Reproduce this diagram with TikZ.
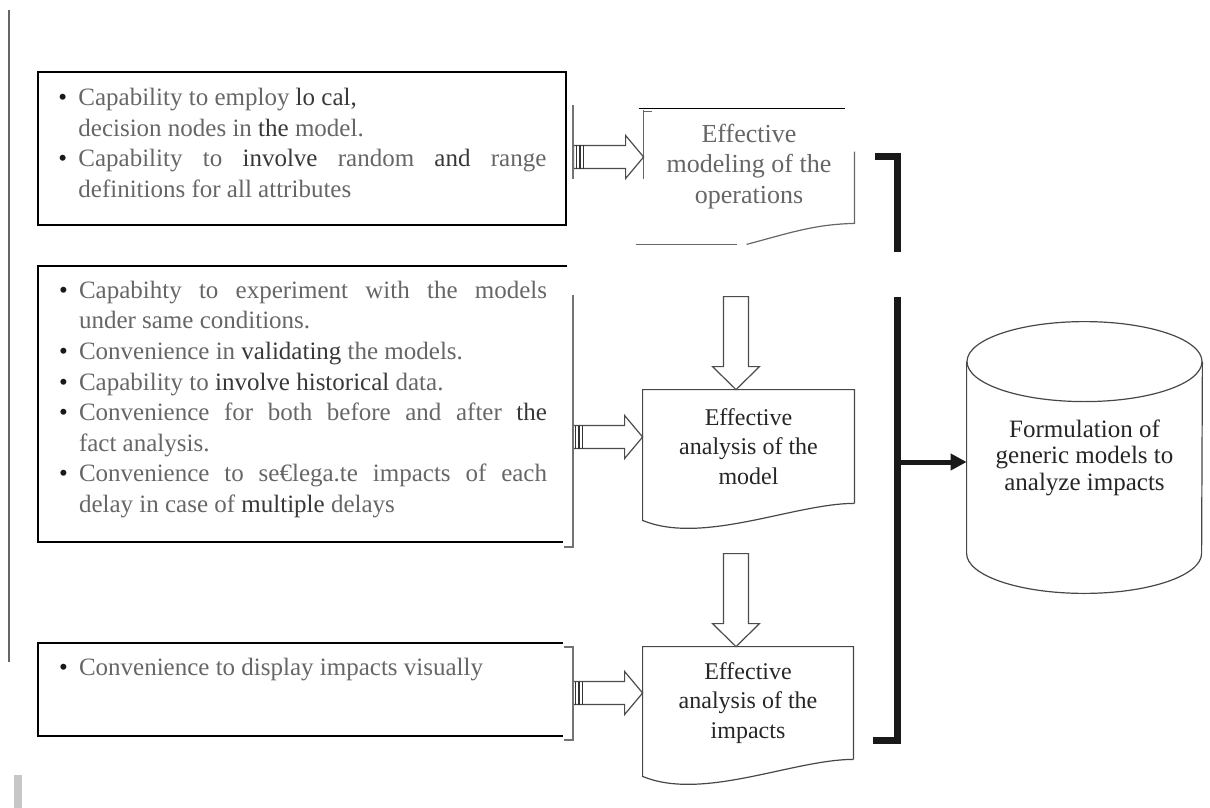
\documentclass[tikz,border=0pt]{standalone}
\usepackage{fontspec}
\setmainfont{Liberation Serif}
\usetikzlibrary{positioning,arrows.meta,calc}

\newcommand{\bul}{\makebox[11pt][l]{\hspace{1pt}\textcolor{black!90}{\textbullet}}}
\newcommand{\ind}{\hspace*{11pt}}
\newcommand{\dk}[1]{\textcolor{black!78}{#1}}

\begin{document}
\begin{tikzpicture}[
  x=0.5pt, y=-0.5pt,
  every node/.style={inner sep=0pt},
  frame/.style={rectangle, minimum width=262.5pt, draw=none},
  boxline/.style={draw=black, line width=1pt},
  lst/.style={anchor=north west, align=left, text=black!60,
              font=\fontsize{12.5}{15.3}\selectfont},
  doc/.style={rectangle, minimum width=105.5pt, minimum height=56.5pt, align=center,
              text=black!85, font=\fontsize{12}{14.8}\selectfont},
  outl/.style={draw=black!72, line width=0.6pt},
  frag/.style={draw=black!60, line width=0.6pt},
  brk/.style={draw=black!55, line width=0.6pt},
  blk/.style={draw=black!70, line width=0.6pt, fill=white},
  hatch/.style={draw=black!80, line width=0.8pt},
  bus/.style={draw=black!90, line width=3.5pt},
  busarr/.style={draw=black!90, line width=2.5pt, -{Triangle[length=8pt,width=8pt]}}
]
\useasboundingbox (0,0) rectangle (1210,808);

% margin marks
\draw[draw=black!60, line width=0.8pt] (9,10) -- (9,662);
\fill[black!22] (14,775) rectangle (22,808);

% left hand lists
\node[frame, boxline, minimum width=264pt, minimum height=76.5pt] (box1) at (302,148.5) {};
\node[frame, minimum height=138pt] (box2) at (300.5,404) {};
\node[frame, minimum height=46.5pt] (box3) at (300.5,689.5) {};
\draw[boxline] ($(box2.north east)+(4,0)$) -- (box2.north west) -- (box2.south west) -- (box2.south east);
\draw[boxline] (box3.north east) -- (box3.north west) -- (box3.south west) -- (box3.south east);

\node[lst] (txt1) at ($(box1.north west)+(19,17)$) {\bul Capability to employ \dk{lo cal,}\\
\ind decision nodes in \dk{the} model.\\
\bul\makebox[234pt][s]{Capability to \dk{involve} random \dk{and} range}\\
\ind definitions for all attributes};

\node[lst] (txt2) at ($(box2.north west)+(19,15)$) {\bul\makebox[234pt][s]{Capabihty to experiment with the models}\\
\ind under same conditions.\\
\bul Convenience in \dk{validating} the models.\\
\bul Capability to \dk{involve historical} data.\\
\bul\makebox[234pt][s]{Convenience for both before and after \dk{the}}\\
\ind fact analysis.\\
\bul\makebox[234pt][s]{Convenience to se€lega.te impacts of each}\\
\ind delay in case of \dk{multiple} delays};

\node[lst] (txt3) at ($(box3.north west)+(19,15)$) {\bul Convenience to display impacts visually};

% process steps
\node[doc, minimum width=105pt, text=black!60, font=\fontsize{13}{15.3}\selectfont] (doc1) at (749,166.5)
  {Effective\\modeling of the\\operations};
\node[doc] (doc2) at (748.5,446.5) {Effective\\analysis of the\\model};
\node[doc, minimum width=105pt, minimum height=56pt] (doc3) at (748,703) {Effective\\analysis of the\\impacts};

\draw[draw=black, line width=0.8pt] ($(doc1.north west)+(-5,-1)$) -- ($(doc1.north east)+(-9,-1)$);
\draw[frag] (doc1.north west) -- ($(doc1.north west)+(0,69)$);
\draw[frag] ($(doc1.north west)+(0,2)$) -- ++(8,0);
\draw[frag] ($(doc1.north east)+(0,42)$) -- (doc1.south east)
  .. controls +(-40,1) and +(45,-12) .. ($(doc1.south west)+(103,21)$);
\draw[frag] ($(doc1.south west)+(-8,21)$) -- ($(doc1.south west)+(93,21)$);

\foreach \dn in {doc2,doc3}
  \draw[outl] (\dn.south east) -- (\dn.north east) -- (\dn.north west)
    -- ($(\dn.south west)+(0,17)$) .. controls +(60,25) and +(-60,0) .. (\dn.south east);

% store
\node[rectangle, minimum width=117.5pt, minimum height=135.5pt, align=center,
      text=black!85, font=\fontsize{12.5}{13.3}\selectfont] (cyl) at (1084.5,457.5)
  {Formulation of\\generic models to\\analyze impacts};
\draw[outl] ($(cyl.north)+(0,40)$) ellipse [x radius=117.5, y radius=40];
\draw[outl] ($(cyl.north west)+(0,40)$) -- ($(cyl.south west)+(0,-40)$)
  arc [start angle=180, end angle=0, x radius=117.5, y radius=40] -- ($(cyl.north east)+(0,40)$);

% hollow arrows
\coordinate (t1) at (574,157);
\coordinate (t2) at (573,437);
\coordinate (t3) at (573,693);
\coordinate (dx) at (736,0);

\foreach \tl/\dn in {t1/doc1, t2/doc2, t3/doc3} {
  \draw[blk] (\tl -| \dn.west) -- ++(-18,-21.5) -- ++(0,10) -- ++(-52,0) -- ++(0,23)
    -- ++(52,0) -- ++(0,10) -- cycle;
  \foreach \hx in {2.5,6,9.5}
    \draw[hatch] ($(\tl)+(\hx,-11.5)$) -- ++(0,23);
}
\foreach \dn in {doc2,doc3}
  \draw[blk] (dx |- \dn.north) -- ++(-23.5,-23) -- ++(11,0) -- ++(0,-70) -- ++(25,0)
    -- ++(0,70) -- ++(11,0) -- cycle;

\draw[brk] ($(t1)+(-1,-52)$) -- ($(t1)+(-1,22)$);
\draw[brk] ($(t2)+(0,-142)$) -- ($(t2)+(0,110)$) -- ++(-9,0);
\draw[brk] ($(t3)+(-9,-46)$) -- ++(9,0) -- ($(t3)+(0,47)$) -- ++(-9,0);

% collecting bracket
\coordinate (bt) at (897,157);
\coordinate (bb) at (897,740);
\coordinate (jn) at (897,462);
\draw[bus] ($(bt)+(-22,0)$) -- (bt) -- ($(bt)+(0,95)$);
\draw[bus] ($(bt)+(0,140)$) -- (bb) -- ++(-24,0);
\draw[busarr] (jn) -- (jn -| cyl.west);
\end{tikzpicture}
\end{document}
